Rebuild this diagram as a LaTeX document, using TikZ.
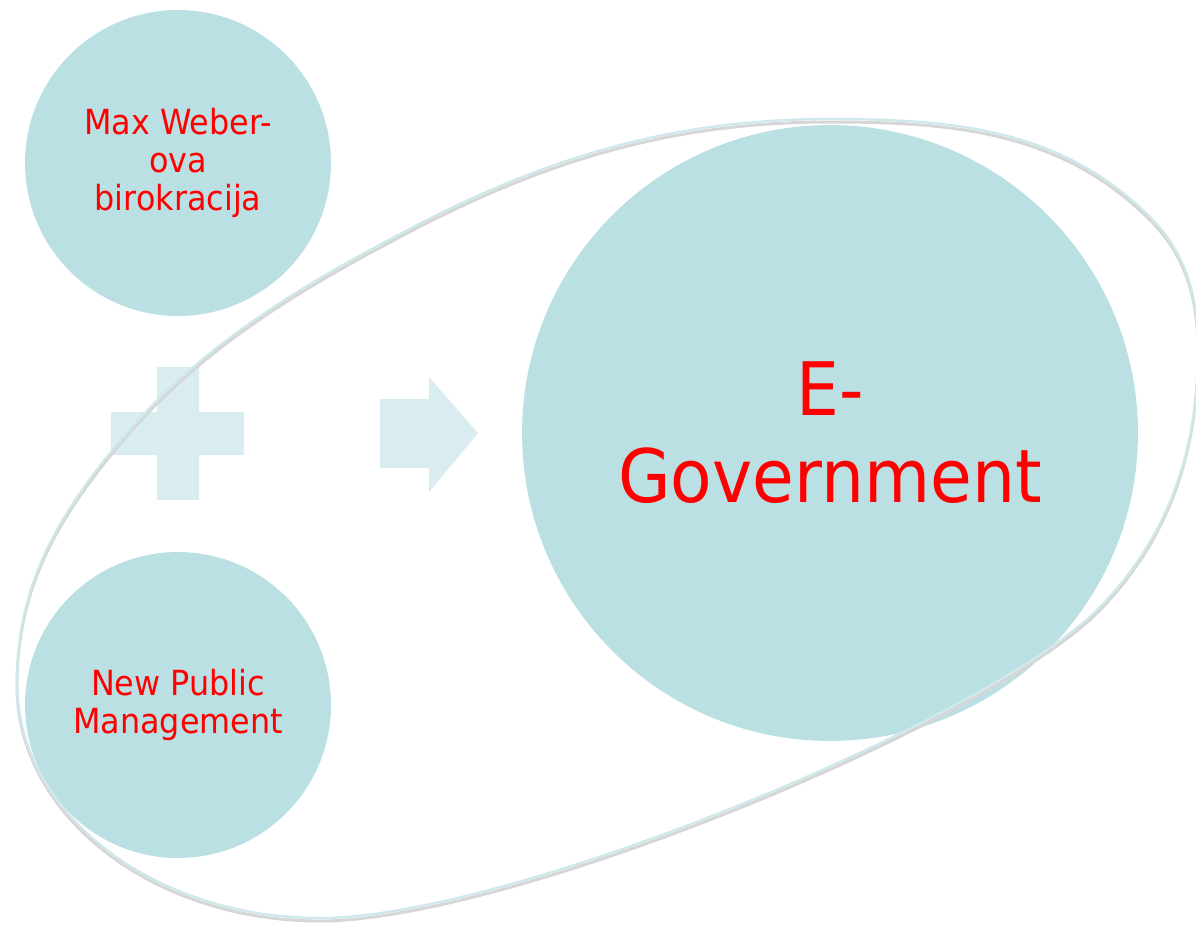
\documentclass[tikz,border=0pt]{standalone}
\usepackage{fontspec}
\setmainfont{DejaVu Sans}[FakeStretch=0.92]
\usetikzlibrary{calc}
\definecolor{bubblefill}{HTML}{BBE0E3}
\definecolor{signfill}{HTML}{D9EDF0}
\definecolor{ringline}{HTML}{CFE8EB}

\begin{document}
\begin{tikzpicture}[x=0.02cm, y=-0.02cm,
		bubble/.style={circle, fill=bubblefill, inner sep=0pt, align=center, text=red},
		small/.style={minimum size=6.12cm, font=\fontsize{19.7}{21.5}\selectfont},
		large/.style={minimum size=12.32cm, font=\fontsize{42}{49.5}\selectfont}]
		\useasboundingbox (0,0) rectangle (1196,924);
		% plus and arrow
		\fill[signfill] (157,367) rectangle (199,500) (111,412) rectangle (244,455);
		\fill[signfill] (380,399) -- (429,399) -- (429,377) -- (478,433) -- (429,492) -- (429,468) -- (380,468) -- cycle;
		% the three circles
		\node[bubble, small] (weber) at (178,163) {Max Weber-\\ova\\birokracija};
		\node[bubble, small] (npm) at (178,705) {New Public\\Management};
		\node[bubble, large] (egov) at (830,433) {E-\\Government};
		% outer ring, with its shadow
		\foreach \col/\sh/\wd in {black!16/3/1.7pt, ringline/0/1.3pt}
			\draw[\col, line width=\wd, shift={(0,\sh)}]
				(830,119) .. controls (955,119) and (1062,129) .. (1150,217)
				.. controls (1187,254) and (1198,297) .. (1198,350)
				.. controls (1198,449) and (1169,536) .. (1100,607)
				.. controls (990,720) and (510,918) .. (320,918)
				.. controls (153,918) and (17,813) .. (17,683)
				.. controls (17,591) and (52,525) .. (110,453)
				.. controls (194,348) and (298,287) .. (417,225)
				.. controls (553,155) and (677,119) .. cycle;
	\end{tikzpicture}
\end{document}
